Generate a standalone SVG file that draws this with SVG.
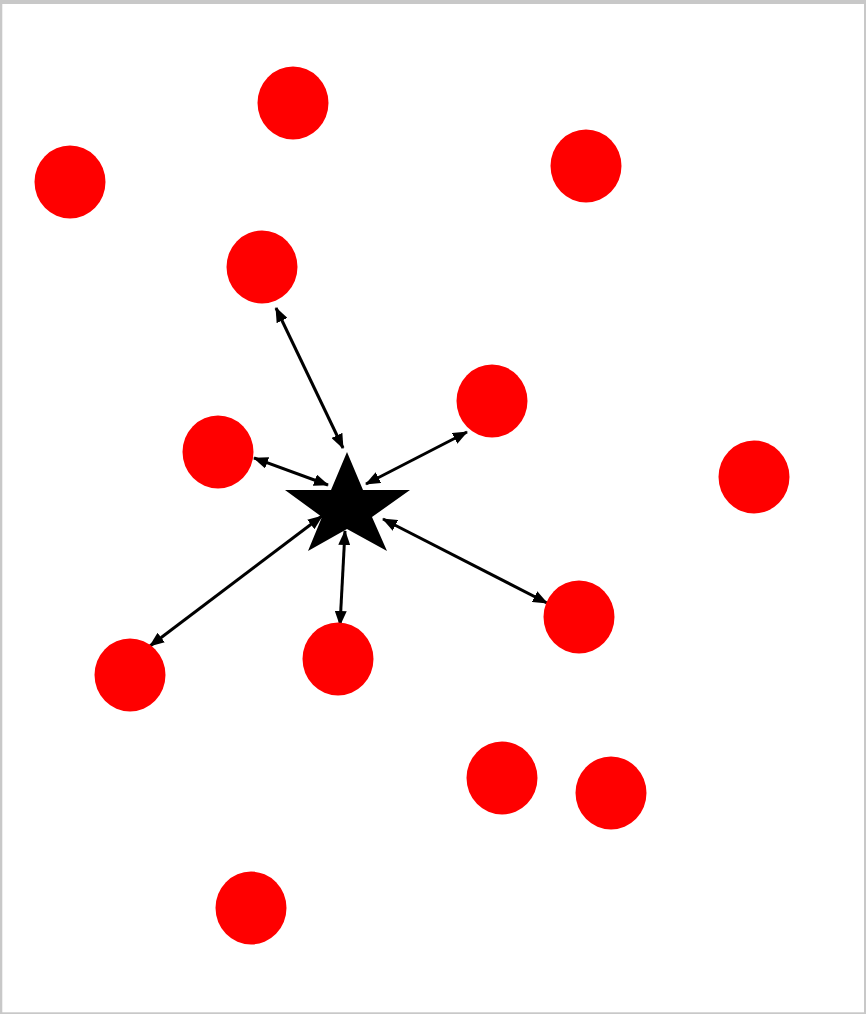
<svg xmlns="http://www.w3.org/2000/svg" width="866" height="1014" viewBox="0 0 866 1014">
<style>
.node{fill:#ff0000}
.edge{stroke:#000;stroke-width:3;fill:none;marker-start:url(#ah);marker-end:url(#ah)}
</style>
<defs>
<marker id="ah" viewBox="0 0 15 12" refX="14" refY="6" markerWidth="15" markerHeight="12" markerUnits="userSpaceOnUse" orient="auto-start-reverse">
<path d="M0,0 L15,6 L0,12 z" fill="#000"/>
</marker>
</defs>
<rect x="0" y="0" width="866" height="1014" fill="#c8c8c8"/>
<rect x="2.3" y="4" width="861.7" height="1008.3" fill="#fff"/>
<g id="connectors">
<line class="edge" x1="276" y1="308" x2="343" y2="448"/>
<line class="edge" x1="254" y1="458" x2="328" y2="485"/>
<line class="edge" x1="467" y1="432" x2="366" y2="484"/>
<line class="edge" x1="150" y1="646" x2="322" y2="516"/>
<line class="edge" x1="340" y1="625" x2="345" y2="531"/>
<line class="edge" x1="547" y1="603" x2="383" y2="519"/>
</g>
<g id="star"><polygon points="347,452 363,490 410,490 372,517 387,551 347,529 308,551 322,517 285,490 331,490" fill="#000"/></g>
<g id="n1"><ellipse class="node" cx="293" cy="103" rx="35.5" ry="36.5"/></g>
<g id="n2"><ellipse class="node" cx="70" cy="182" rx="35.5" ry="36.5"/></g>
<g id="n3"><ellipse class="node" cx="586" cy="166" rx="35.5" ry="36.5"/></g>
<g id="n4"><ellipse class="node" cx="262" cy="267" rx="35.5" ry="36.5"/></g>
<g id="n5"><ellipse class="node" cx="492" cy="401" rx="35.5" ry="36.5"/></g>
<g id="n6"><ellipse class="node" cx="218" cy="452" rx="35.5" ry="36.5"/></g>
<g id="n7"><ellipse class="node" cx="754" cy="477" rx="35.5" ry="36.5"/></g>
<g id="n8"><ellipse class="node" cx="579" cy="617" rx="35.5" ry="36.5"/></g>
<g id="n9"><ellipse class="node" cx="130" cy="675" rx="35.5" ry="36.5"/></g>
<g id="n10"><ellipse class="node" cx="338" cy="659" rx="35.5" ry="36.5"/></g>
<g id="n11"><ellipse class="node" cx="502" cy="778" rx="35.5" ry="36.5"/></g>
<g id="n12"><ellipse class="node" cx="611" cy="793" rx="35.5" ry="36.5"/></g>
<g id="n13"><ellipse class="node" cx="251" cy="908" rx="35.5" ry="36.5"/></g>
</svg>
